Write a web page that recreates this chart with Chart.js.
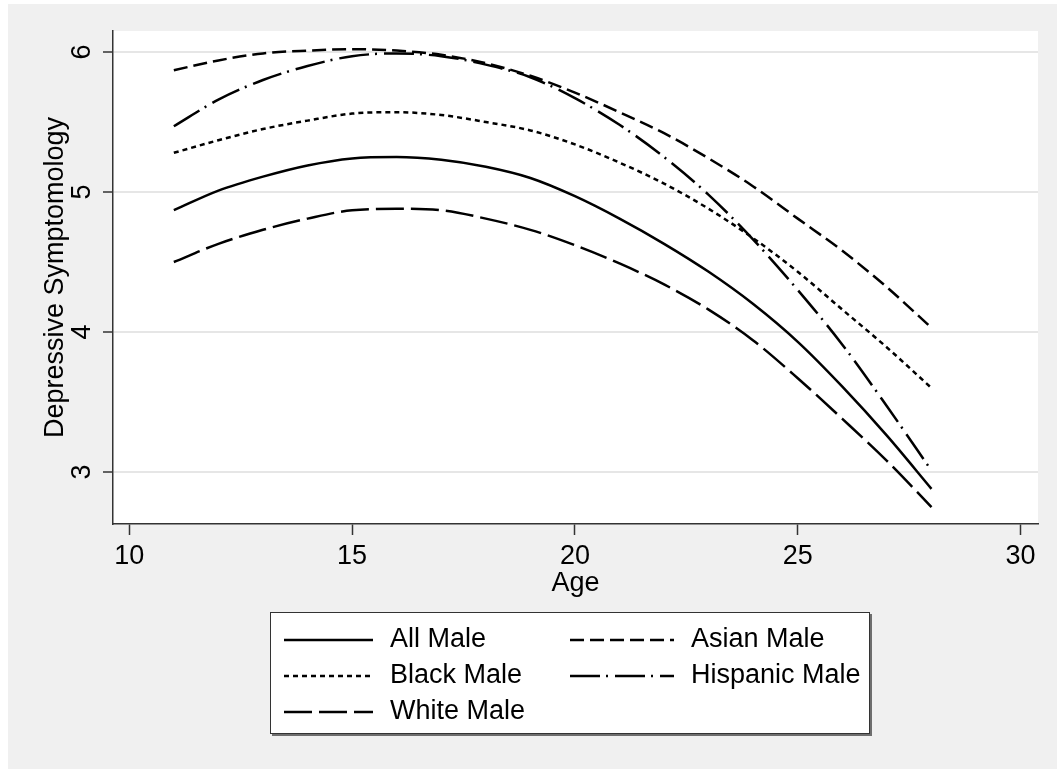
<!DOCTYPE html>
<html><head><meta charset="utf-8">
<script src="https://cdn.jsdelivr.net/npm/chart.js@4/dist/chart.umd.min.js"></script>
<style>html,body{margin:0;padding:0;background:#fff;} canvas{display:block;}</style>
</head><body>
<canvas id="c" width="1057" height="769"></canvas>
<script>
const ages = [11,12,13,14,15,16,17,18,19,20,21,22,23,24,25,26,27,28];
const allMale      = [4.87,5.01,5.11,5.19,5.24,5.25,5.23,5.18,5.10,4.97,4.81,4.63,4.43,4.20,3.93,3.61,3.26,2.88];
const asianMale    = [5.87,5.94,5.99,6.01,6.02,6.01,5.98,5.92,5.83,5.71,5.57,5.42,5.24,5.04,4.81,4.58,4.32,4.03];
const blackMale    = [5.28,5.37,5.45,5.51,5.56,5.57,5.55,5.50,5.44,5.34,5.21,5.06,4.88,4.67,4.43,4.16,3.89,3.60];
const hispanicMale = [5.47,5.66,5.80,5.90,5.97,5.99,5.97,5.91,5.82,5.67,5.48,5.25,4.98,4.66,4.30,3.91,3.47,3.01];
const whiteMale    = [4.50,4.63,4.73,4.81,4.87,4.88,4.87,4.81,4.73,4.62,4.49,4.34,4.16,3.94,3.67,3.38,3.08,2.75];
const seriesNames = ['All Male','Asian Male','Black Male','Hispanic Male','White Male'];
const xTicks = [10,15,20,25,30];
const yTicks = [3,4,5,6];
const xTitle = 'Age';
const yTitle = 'Depressive Symptomology';

const FONT = '"Liberation Sans", Arial, Helvetica, sans-serif';
const FS = 27;
Chart.defaults.font.family = FONT;
Chart.defaults.color = '#000';

const seriesValues = [allMale, asianMale, blackMale, hispanicMale, whiteMale];
const dashes = [[], [14,6], [5,4], [30,6,2,7], [28,7]];

const datasets = seriesNames.map((n,i)=>({
  label: n,
  data: ages.map((a,j)=>({x:a, y:seriesValues[i][j]})),
  borderColor: '#000',
  borderWidth: 2.5,
  borderDash: dashes[i],
  pointRadius: 0,
  fill: false,
  cubicInterpolationMode: 'monotone',
  borderCapStyle: 'butt'
}));

const bgPlugin = {
  id: 'bg',
  beforeDraw(chart){
    const ctx = chart.ctx, a = chart.chartArea;
    ctx.save();
    ctx.fillStyle = '#fff'; ctx.fillRect(0,0,chart.width,chart.height);
    ctx.fillStyle = '#f0f0f0'; ctx.fillRect(8,4,chart.width-8,chart.height-4);
    ctx.fillStyle = '#fff'; ctx.fillRect(a.left,a.top,a.right-a.left,a.bottom-a.top);
    ctx.restore();
  }
};

const yLabelPlugin = {
  id: 'ylabels',
  afterDraw(chart){
    const ctx = chart.ctx, s = chart.scales.y;
    ctx.save();
    ctx.fillStyle = '#000';
    ctx.font = FS + 'px ' + FONT;
    ctx.textAlign = 'center';
    ctx.textBaseline = 'alphabetic';
    yTicks.forEach(v=>{
      const py = s.getPixelForValue(v);
      ctx.save();
      ctx.translate(90, py);
      ctx.rotate(-Math.PI/2);
      ctx.fillText(String(v), 0, 0);
      ctx.restore();
    });
    ctx.restore();
  }
};

const legendPlugin = {
  id: 'boxLegend',
  afterDraw(chart){
    const ctx = chart.ctx;
    const bx = 270, by = 612, bw = 600, bh = 122;
    ctx.save();
    ctx.fillStyle = '#6e6e6e'; ctx.fillRect(bx+2, by+2, bw, bh);
    ctx.fillStyle = '#fff'; ctx.fillRect(bx, by, bw, bh);
    ctx.strokeStyle = '#333'; ctx.lineWidth = 1; ctx.strokeRect(bx+0.5, by+0.5, bw-1, bh-1);
    const cols = [{x0:284, x1:373, tx:390},{x0:570, x1:674, tx:691}];
    const rows = [640, 676, 712];
    const pos = [[0,0],[1,0],[0,1],[1,1],[0,2]];
    ctx.font = FS + 'px ' + FONT;
    ctx.textBaseline = 'middle';
    ctx.textAlign = 'left';
    chart.data.datasets.forEach((d,i)=>{
      const c = cols[pos[i][0]], y = rows[pos[i][1]];
      ctx.beginPath();
      ctx.setLineDash(d.borderDash);
      ctx.lineWidth = 2.5; ctx.strokeStyle = '#000'; ctx.lineCap = 'butt';
      ctx.moveTo(c.x0, y); ctx.lineTo(c.x1, y); ctx.stroke();
      ctx.setLineDash([]);
      ctx.fillStyle = '#000';
      ctx.fillText(d.label, c.tx, y);
    });
    ctx.restore();
  }
};

new Chart(document.getElementById('c'), {
  type: 'line',
  data: { datasets },
  plugins: [bgPlugin, yLabelPlugin, legendPlugin],
  options: {
    responsive: false,
    devicePixelRatio: 1,
    animation: false,
    layout: { padding: { left: 0, top: 31, right: 19, bottom: 0 } },
    plugins: { legend: { display: false }, tooltip: { enabled: false } },
    scales: {
      x: {
        type: 'linear', min: 9.635, max: 30.39,
        afterBuildTicks: s => { s.ticks = xTicks.map(v=>({value:v})); },
        afterFit: s => { s.height = 245; },
        ticks: { font: { size: FS }, padding: 5, color: '#000', maxRotation: 0, minRotation: 0 },
        grid: { drawOnChartArea: false, drawTicks: true, tickLength: 11, tickColor: '#333', tickWidth: 1.5 },
        border: { display: true, color: '#333', width: 1.5 },
        title: { display: true, text: xTitle, font: { size: FS }, color: '#000', padding: { top: 0, bottom: 169 } }
      },
      y: {
        type: 'linear', min: 2.629, max: 6.15,
        afterBuildTicks: s => { s.ticks = yTicks.map(v=>({value:v})); },
        afterFit: s => { s.width = 113; },
        ticks: { display: false },
        grid: { color: '#e6e6e6', lineWidth: 2, drawTicks: true, tickLength: 10, tickColor: '#333', tickWidth: 1.5 },
        border: { display: true, color: '#333', width: 1.5 },
        title: { display: true, text: yTitle, font: { size: FS }, color: '#000', padding: { top: 39, bottom: 0 } }
      }
    }
  }
});
</script>
</body></html>
